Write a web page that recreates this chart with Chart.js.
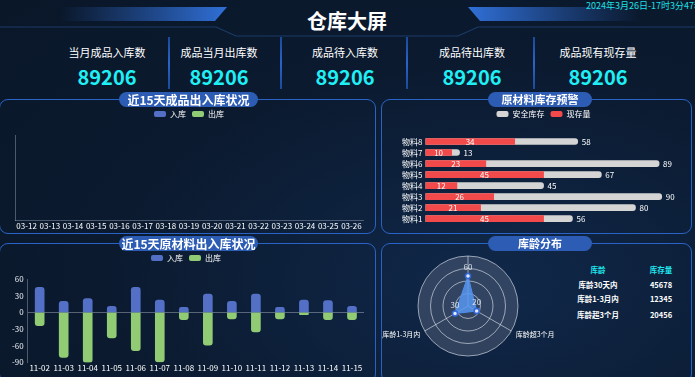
<!DOCTYPE html>
<html>
<head>
<meta charset="utf-8">
<title>仓库大屏</title>
<script src="https://cdn.jsdelivr.net/npm/chart.js@4.4.1/dist/chart.umd.min.js"></script>
<style>
  html, body { margin: 0; padding: 0; }
  body {
    width: 695px; height: 377px; overflow: hidden; position: relative;
    background: radial-gradient(ellipse at 70% 75%, #10284a 0%, #0b1a2f 55%, #0a1729 100%);
    font-family: "Microsoft YaHei", "Noto Sans CJK SC", sans-serif; color: #fff;
  }
  .abs { position: absolute; }
  .date { left: 586px; top: 0px; font-size: 9px; line-height: 12px; color: #1ee0e6; white-space: nowrap; }
  .title { left: 247px; top: 8px; width: 200px; text-align: center; font-size: 20px; font-weight: bold; line-height: 26px; }
  .kpi-name { width: 130px; text-align: center; font-size: 11px; line-height: 14px; top: 45px; }
  .kpi-val { width: 130px; text-align: center; font-size: 20px; font-weight: bold; line-height: 22px; top: 66px; color: #1ff0f5; }
  .sep { width: 2px; top: 37px; height: 52px; background: linear-gradient(#1b4a9a, #2a64c8 50%, #1b4a9a); }
  .panel { border: 1.5px solid #2a63c6; border-radius: 9px; box-sizing: border-box; }
  .pill { height: 15px; line-height: 15px; border-radius: 8px; background: #2c5cb4; text-align: center; font-weight: bold; color: #fff; }
  .tbl { font-size: 7.5px; font-weight: bold; line-height: 10px; width: 60px; text-align: center; }
</style>
</head>
<body>
<svg class="abs" style="left:0;top:0" width="695" height="100">
  <defs>
    <linearGradient id="gl" x1="0" x2="1" y1="0" y2="0">
      <stop offset="0" stop-color="#2e67c9" stop-opacity="0"/>
      <stop offset="1" stop-color="#3070d8"/>
    </linearGradient>
    <linearGradient id="gr" x1="0" x2="1" y1="0" y2="0">
      <stop offset="0" stop-color="#3070d8"/>
      <stop offset="1" stop-color="#2e67c9" stop-opacity="0"/>
    </linearGradient>
  </defs>
  <polygon points="60,7 227,7 215,21 60,21" fill="url(#gl)"/>
  <polygon points="468,7 640,7 640,21 480,21" fill="url(#gr)"/>
  <path d="M0,27 H216 L236,36 H458 L478,27 H695" fill="none" stroke="#1c3b68" stroke-width="1.2"/>
</svg>
<div class="abs date" id="date">2024年3月26日-17时3分47秒</div>
<div class="abs title">仓库大屏</div>
<div id="kpis"></div>

<div class="abs panel" style="left:-1px;top:99px;width:377px;height:135px"></div>
<div class="abs panel" style="left:381px;top:99px;width:311px;height:135px"></div>
<div class="abs panel" style="left:-1px;top:243px;width:377px;height:140px"></div>
<div class="abs panel" style="left:381px;top:243px;width:311px;height:140px"></div>

<canvas class="abs" id="c1" width="376" height="130" style="left:0;top:104px"></canvas>
<canvas class="abs" id="c2" width="309" height="128" style="left:383px;top:104px"></canvas>
<canvas class="abs" id="c3" width="376" height="129" style="left:0;top:248px"></canvas>
<canvas class="abs" id="c4" width="174" height="128" style="left:381px;top:248px"></canvas>
<div id="ageTable"></div>

<div class="abs pill" style="left:119px;top:92px;width:139px;font-size:12px">近15天成品出入库状况</div>
<div class="abs pill" style="left:488px;top:92px;width:104px;font-size:11px">原材料库存预警</div>
<div class="abs pill" style="left:119px;top:236px;width:139px;font-size:12px">近15天原材料出入库状况</div>
<div class="abs pill" style="left:488px;top:236px;width:104px;font-size:11px">库龄分布</div>

<script>
// ---- data ----
const kpiNames = ['当月成品入库数', '成品当月出库数', '成品待入库数', '成品待出库数', '成品现有现存量'];
const kpiValues = [89206, 89206, 89206, 89206, 89206];

// finished goods, last 15 days (reference shows no bars)
const productDays = ['03-12', '03-13', '03-14', '03-15', '03-16', '03-17', '03-18', '03-19',
  '03-20', '03-21', '03-22', '03-23', '03-24', '03-25', '03-26'];
const productIn = [];
const productOut = [];

// raw material stock warning
const materials = ['物料1', '物料2', '物料3', '物料4', '物料5', '物料6', '物料7', '物料8'];
const safetyStock = [56, 80, 90, 45, 67, 89, 13, 58];
const currentStock = [45, 21, 26, 12, 45, 23, 10, 34];

// raw material in/out, last 15 days
const materialDays = ['11-02', '11-03', '11-04', '11-05', '11-06', '11-07', '11-08',
  '11-09', '11-10', '11-11', '11-12', '11-13', '11-14', '11-15'];
const materialIn = [45, 20, 25, 11, 45, 22, 9, 33, 20, 33, 9, 22, 21, 11];
const materialOut = [-24, -81, -90, -46, -69, -89, -13, -59, -12, -35, -12, -4, -13, -13];

// stock age
const ageNames = ['库龄30天内', '库龄1-3月内', '库龄超3个月'];
const ageRadar = [60, 30, 20];
const ageStock = [45678, 12345, 20456];

const FONT = '"Microsoft YaHei", "Noto Sans CJK SC", sans-serif';
Chart.defaults.font.family = FONT;
Chart.defaults.color = '#fff';
Chart.defaults.animation = false;

// ---- html parts ----
const kpiCenters = [107, 219, 345, 472, 598];
const sepX = [169, 281, 407, 534];
let kpiHtml = '';
kpiNames.forEach((n, i) => {
  kpiHtml += `<div class="abs kpi-name" style="left:${kpiCenters[i] - 65}px">${n}</div>`;
  kpiHtml += `<div class="abs kpi-val" style="left:${kpiCenters[i] - 65}px">${kpiValues[i]}</div>`;
});
sepX.forEach(x => { kpiHtml += `<div class="abs sep" style="left:${x - 1}px"></div>`; });
document.getElementById('kpis').innerHTML = kpiHtml;

const rowY = [265, 280, 294, 310];
let tbl = `<div class="abs tbl" style="left:568px;top:${rowY[0]}px;color:#1ee6ee">库龄</div>`;
tbl += `<div class="abs tbl" style="left:631px;top:${rowY[0]}px;color:#1ee6ee">库存量</div>`;
ageNames.forEach((n, i) => {
  tbl += `<div class="abs tbl" style="left:568px;top:${rowY[i + 1]}px">${n}</div>`;
  tbl += `<div class="abs tbl" style="left:631px;top:${rowY[i + 1]}px">${ageStock[i]}</div>`;
});
document.getElementById('ageTable').innerHTML = tbl;

// ---- plugins ----
// pushes the plot area down below the legend
const legendGap = {
  id: 'legendGap',
  afterInit(chart, args, opts) {
    const legend = chart.legend;
    if (!legend) return;
    const fit = legend.fit;
    legend.fit = function () {
      fit.call(this);
      this.height += opts.gap || 0;
    };
  }
};

const barValueLabels = {
  id: 'barValueLabels',
  afterDatasetsDraw(chart) {
    const ctx = chart.ctx;
    ctx.save();
    ctx.font = '8px ' + FONT;
    ctx.fillStyle = '#fff';
    ctx.textBaseline = 'middle';
    chart.data.datasets.forEach((ds, di) => {
      chart.getDatasetMeta(di).data.forEach((bar, i) => {
        if (ds.labelInside) {
          ctx.textAlign = 'center';
          ctx.fillText(ds.data[i], (bar.x + bar.base) / 2, bar.y);
        } else {
          ctx.textAlign = 'left';
          ctx.fillText(ds.data[i], bar.x + 4, bar.y);
        }
      });
    });
    ctx.restore();
  }
};

// chart.js goes clockwise, the reference goes counter clockwise
const radarOrder = [0, 2, 1];
const radarLabels = radarOrder.map(i => ageNames[i]);
const radarValues = radarOrder.map(i => ageRadar[i]);

const radarText = {
  id: 'radarText',
  afterDatasetsDraw(chart) {
    const scale = chart.scales.r;
    const ctx = chart.ctx;
    ctx.save();
    ctx.font = '7px ' + FONT;
    ctx.fillStyle = '#fff';
    ctx.textBaseline = 'middle';
    radarLabels.forEach((name, i) => {
      if (i === 0) return; // top axis name is not shown in the reference
      const p = scale.getPointPosition(i, scale.drawingArea + 5);
      ctx.textAlign = p.x < scale.xCenter ? 'right' : 'left';
      ctx.fillText(name, p.x, p.y + 1);
    });
    ctx.font = '8px ' + FONT;
    ctx.fillStyle = '#dde4ee';
    chart.getDatasetMeta(0).data.forEach((pt, i) => {
      ctx.textAlign = 'center';
      ctx.fillText(radarValues[i], pt.x, pt.y - 9);
    });
    ctx.restore();
  }
};

function legendOptions() {
  return {
    display: true,
    labels: {
      color: '#fff', font: { size: 8 }, boxWidth: 12, boxHeight: 6,
      useBorderRadius: true, borderRadius: 2, padding: 6
    }
  };
}

const axisLine = 'rgba(200,210,225,0.35)';

// ---- chart 1: finished goods ----
new Chart(document.getElementById('c1'), {
  type: 'bar',
  data: {
    labels: productDays,
    datasets: [
      { label: '入库', data: productIn, backgroundColor: '#5470c6' },
      { label: '出库', data: productOut, backgroundColor: '#91cc75' }
    ]
  },
  options: {
    responsive: false,
    layout: { padding: { left: 15, right: 13, top: 0, bottom: 2 } },
    plugins: { legend: legendOptions(), tooltip: { enabled: false }, legendGap: { gap: 7 } },
    scales: {
      x: {
        grid: { display: false, drawTicks: false },
        border: { display: true, color: axisLine },
        ticks: { color: '#fff', font: { size: 8 }, maxRotation: 0, autoSkip: false, padding: 1 }
      },
      y: {
        grid: { display: false, drawTicks: false },
        border: { display: true, color: axisLine },
        ticks: { display: false }
      }
    }
  },
  plugins: [legendGap]
});

// ---- chart 2: raw material stock warning ----
const legend2 = legendOptions();
legend2.labels.sort = (a, b) => a.datasetIndex - b.datasetIndex;
new Chart(document.getElementById('c2'), {
  type: 'bar',
  data: {
    labels: materials,
    datasets: [
      { label: '安全库存', data: safetyStock, backgroundColor: '#d4d4d4', grouped: false, order: 2,
        barThickness: 6, borderRadius: 3, borderSkipped: 'start' },
      { label: '现存量', data: currentStock, backgroundColor: '#f24a4a', grouped: false, order: 1,
        barThickness: 6, labelInside: true }
    ]
  },
  options: {
    responsive: false,
    indexAxis: 'y',
    layout: { padding: { left: 16, right: 4, top: 0, bottom: 2 } },
    plugins: {
      legend: legend2,
      tooltip: { enabled: false },
      legendGap: { gap: 8 }
    },
    scales: {
      x: { display: false, min: 0, max: 100 },
      y: {
        reverse: true,
        grid: { display: false, drawTicks: false },
        border: { display: false },
        ticks: { color: '#fff', font: { size: 8 }, padding: 3, autoSkip: false }
      }
    }
  },
  plugins: [legendGap, barValueLabels]
});

// ---- chart 3: raw material in/out ----
new Chart(document.getElementById('c3'), {
  type: 'bar',
  data: {
    labels: materialDays,
    datasets: [
      { label: '入库', data: materialIn, backgroundColor: '#5470c6', barThickness: 9, borderRadius: 3 },
      { label: '出库', data: materialOut, backgroundColor: '#91cc75', barThickness: 9, borderRadius: 3 }
    ]
  },
  options: {
    responsive: false,
    layout: { padding: { left: 8, right: 12, top: 0, bottom: 3 } },
    plugins: { legend: legendOptions(), tooltip: { enabled: false }, legendGap: { gap: 7 } },
    scales: {
      x: {
        stacked: true,
        grid: { display: false, drawTicks: false },
        border: { display: false },
        ticks: { color: '#fff', font: { size: 8 }, maxRotation: 0, autoSkip: false, padding: 1 }
      },
      y: {
        stacked: true, min: -90, max: 60,
        grid: {
          drawTicks: false,
          color: c => (c.tick && c.tick.value === 0 ? 'rgba(200,210,225,0.4)' : 'rgba(0,0,0,0)')
        },
        border: { display: true, color: axisLine },
        ticks: { stepSize: 30, color: '#e8ecf2', font: { size: 8 }, padding: 4 }
      }
    }
  },
  plugins: [legendGap]
});

// ---- chart 4: stock age radar ----
new Chart(document.getElementById('c4'), {
  type: 'radar',
  data: {
    labels: radarLabels,
    datasets: [{
      label: '库龄', data: radarValues,
      backgroundColor: 'rgba(88,150,240,0.85)', borderColor: '#4f8ff0', borderWidth: 1,
      pointRadius: 2.5, pointBackgroundColor: '#dfe9ff', pointBorderColor: '#3366d6', pointBorderWidth: 1.5
    }]
  },
  options: {
    responsive: false,
    layout: { padding: { left: 37, right: 37, top: 8, bottom: 20 } },
    plugins: { legend: { display: false }, tooltip: { enabled: false } },
    scales: {
      r: {
        min: 0, max: 100,
        backgroundColor: 'rgba(120,132,152,0.32)',
        ticks: { display: false, stepSize: 25 },
        grid: { circular: true, color: 'rgba(230,235,245,0.6)' },
        angleLines: { color: 'rgba(230,235,245,0.6)' },
        pointLabels: { display: false }
      }
    }
  },
  plugins: [radarText]
});
</script>
</body>
</html>
